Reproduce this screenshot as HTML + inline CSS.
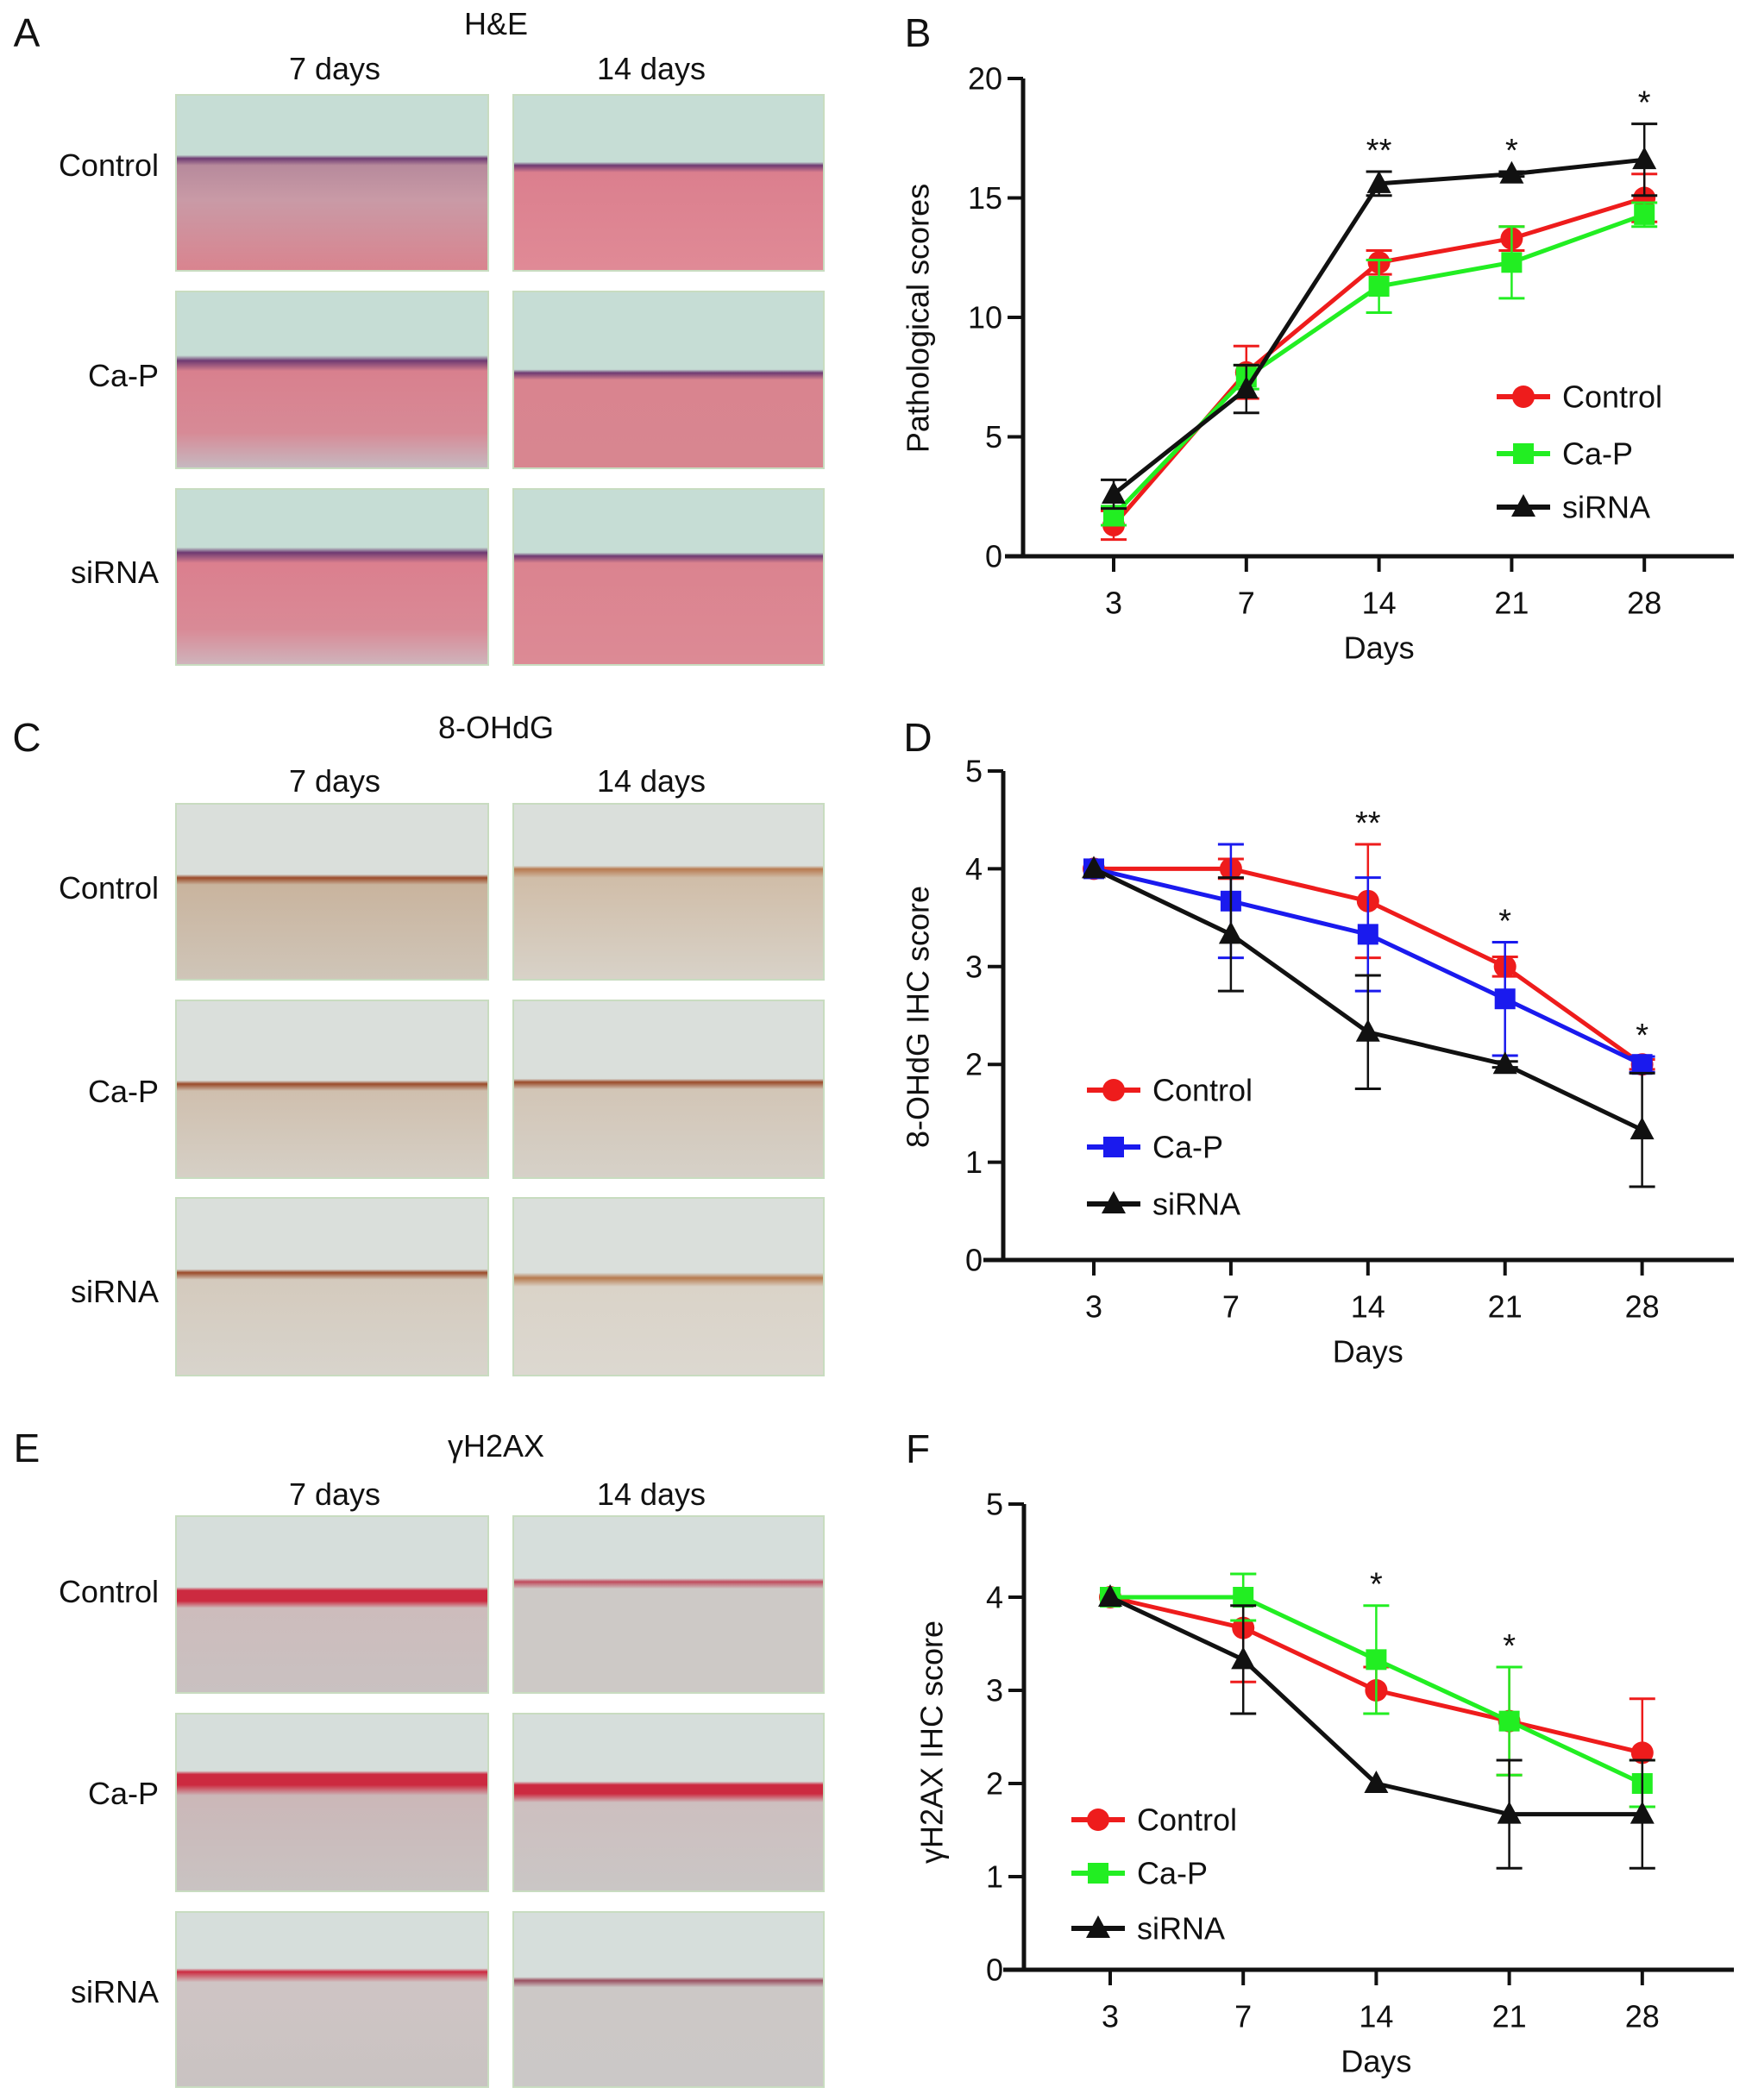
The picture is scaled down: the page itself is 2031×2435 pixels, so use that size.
<!DOCTYPE html>
<html><head><meta charset="utf-8">
<style>
html,body{margin:0;padding:0;background:#fff;}
body{width:2031px;height:2435px;position:relative;overflow:hidden;font-family:"Liberation Sans",Arial,sans-serif;}
.t{position:absolute;color:#111;white-space:nowrap;}
.img{position:absolute;box-sizing:border-box;border:2px solid #c8dcc0;}
</style></head><body>
<svg id="fig" width="2031" height="2435" style="position:absolute;left:0;top:0" xmlns="http://www.w3.org/2000/svg" font-family="Liberation Sans, Arial, sans-serif"></svg>
<script>
// ---- Shared categories ----
const days = ["3","7","14","21","28"];
// ---- Panel B ----
const bYTicks = [0,5,10,15,20];
const bControl = [1.3,7.7,12.3,13.3,15.0];
const bControlErr = [0.6,1.1,0.5,0.5,1.0];
const bCaP = [1.7,7.5,11.3,12.3,14.3];
const bCaPErr = [0.4,0.5,1.1,1.5,0.5];
const bSiRNA = [2.6,7.0,15.6,16.0,16.6];
const bSiRNAErr = [0.6,1.0,0.5,0.1,1.5];
const bStars = ["","","**","*","*"];
// ---- Panel D ----
const dYTicks = [0,1,2,3,4,5];
const dControl = [4,4,3.67,3.0,2.0];
const dControlErr = [0,0.1,0.58,0.1,0.05];
const dCaP = [4,3.67,3.33,2.67,2.0];
const dCaPErr = [0,0.58,0.58,0.58,0.08];
const dSiRNA = [4,3.33,2.33,2.0,1.33];
const dSiRNAErr = [0,0.58,0.58,0.03,0.58];
const dStars = ["","","**","*","*"];
// ---- Panel F ----
const fYTicks = [0,1,2,3,4,5];
const fControl = [4,3.67,3.0,2.67,2.33];
const fControlErr = [0,0.58,0.25,0.58,0.58];
const fCaP = [4,4,3.33,2.67,2.0];
const fCaPErr = [0,0.25,0.58,0.58,0.25];
const fSiRNA = [4,3.33,2.0,1.67,1.67];
const fSiRNAErr = [0,0.58,0.02,0.58,0.58];
const fStars = ["","","*","*",""];

const NS="http://www.w3.org/2000/svg";
const svg=document.getElementById('fig');
function mk(tag,attrs,parent){const e=document.createElementNS(NS,tag);for(const k in attrs)e.setAttribute(k,attrs[k]);(parent||svg).appendChild(e);return e;}
function txt(s,x,y,size,parent,anchor){const e=mk('text',{x:x,y:y,'font-size':size,'text-anchor':anchor||'middle','dominant-baseline':'central',fill:'#111'},parent);e.textContent=s;return e;}

function marker(g,shape,x,y,color){
  let m;
  if(shape==='circle'){m=mk('circle',{cx:x,cy:y,r:13,fill:color},g);}
  else if(shape==='square'){m=mk('rect',{x:x-12,y:y-12,width:24,height:24,fill:color},g);}
  else {m=mk('polygon',{points:(x)+','+(y-15)+' '+(x-14)+','+(y+11)+' '+(x+14)+','+(y+11),fill:color},g);}
  return m;
}

function chart(c){
  const g=mk('g',{});
  
  
  const ymax=c.yTicks[c.yTicks.length-1];
  const ys=v=>c.y0+(c.yTop-c.y0)*v/ymax;
  const xs=i=>c.xPos0+i*c.xStep;
  const ax=mk('line',{x1:c.ax,y1:c.yTop,x2:c.ax,y2:c.y0+2,stroke:'#111','stroke-width':5},g);
  
  const bx=mk('line',{x1:c.xStart,y1:c.y0,x2:c.xEnd,y2:c.y0,stroke:'#111','stroke-width':5},g);
  
  c.yTicks.forEach(v=>{
    mk('line',{x1:c.ax-18,y1:ys(v),x2:c.ax,y2:ys(v),stroke:'#111','stroke-width':4},g);
    const t=txt(String(v),c.ax-24,ys(v),36,g,'end');
    
  });
  days.forEach((d,i)=>{
    mk('line',{x1:xs(i),y1:c.y0,x2:xs(i),y2:c.y0+18,stroke:'#111','stroke-width':4},g);
    const t=txt(d,xs(i),c.y0+54,36,g);
    
  });
  const xt=txt('Days',(c.xPos0+c.xPos0+4*c.xStep)/2,c.y0+106,36,g);
  
  const yt=txt(c.ytitle,0,0,36,g);
  yt.setAttribute('transform','translate('+c.ytx+','+c.yty+') rotate(-90)');
  
  c.series.forEach(s=>{
    const sg=mk('g',{},g);
    
    
    s.vals.forEach((v,i)=>{
      const e=s.err[i];
      if(e>0.02){
        mk('line',{x1:xs(i),y1:ys(v+e),x2:xs(i),y2:ys(v-e),stroke:s.color,'stroke-width':2.5},sg);
        mk('line',{x1:xs(i)-15,y1:ys(v+e),x2:xs(i)+15,y2:ys(v+e),stroke:s.color,'stroke-width':3},sg);
        mk('line',{x1:xs(i)-15,y1:ys(v-e),x2:xs(i)+15,y2:ys(v-e),stroke:s.color,'stroke-width':3},sg);
      }
    });
    const pl=mk('polyline',{points:s.vals.map((v,i)=>xs(i)+','+ys(v)).join(' '),fill:'none',stroke:s.color,'stroke-width':5,'stroke-linejoin':'round'},sg);
    
    s.vals.forEach((v,i)=>{
      const m=marker(sg,s.shape,xs(i),ys(v),s.color);
      
      
    });
  });
  c.stars.forEach((st,i)=>{
    if(!st)return;
    let top=-1e9;
    c.series.forEach(s=>{top=Math.max(top,s.vals[i]+s.err[i]);});
    const t=txt(st,xs(i),ys(top)-24,38,g);
    
  });
  c.series.forEach((s,k)=>{
    const ly=c.legY[k];
    const lg=mk('g',{},g);
    
    
    mk('line',{x1:c.legX,y1:ly,x2:c.legX+62,y2:ly,stroke:s.color,'stroke-width':6},lg);
    marker(lg,s.shape,c.legX+31,ly,s.color);
    txt(s.label,c.legX+76,ly,36,lg,'start');
  });
}

chart({name:'chart-b-pathological-scores',yTicks:bYTicks,y0:645,yTop:91,ax:1186,xStart:1165,xEnd:2010,xPos0:1291,xStep:153.8,
  ytitle:'Pathological scores',ytx:1064,yty:369,stars:bStars,legX:1735,legY:[460,526,588],
  series:[{key:'control',label:'Control',vals:bControl,err:bControlErr,color:'#ee1c1c',shape:'circle'},
          {key:'ca-p',label:'Ca-P',vals:bCaP,err:bCaPErr,color:'#22ee22',shape:'square'},
          {key:'sirna',label:'siRNA',vals:bSiRNA,err:bSiRNAErr,color:'#111',shape:'tri'}]});
chart({name:'chart-d-8ohdg-score',yTicks:dYTicks,y0:1461,yTop:894,ax:1163,xStart:1140,xEnd:2010,xPos0:1268,xStep:158.9,
  ytitle:'8-OHdG IHC score',ytx:1064,yty:1179,stars:dStars,legX:1260,legY:[1264,1330,1396],
  series:[{key:'control',label:'Control',vals:dControl,err:dControlErr,color:'#ee1c1c',shape:'circle'},
          {key:'ca-p',label:'Ca-P',vals:dCaP,err:dCaPErr,color:'#1a1aee',shape:'square'},
          {key:'sirna',label:'siRNA',vals:dSiRNA,err:dSiRNAErr,color:'#111',shape:'tri'}]});
chart({name:'chart-f-gh2ax-score',yTicks:fYTicks,y0:2284,yTop:1744,ax:1187,xStart:1163,xEnd:2010,xPos0:1287,xStep:154.2,
  ytitle:'\u03B3H2AX IHC score',ytx:1080,yty:2020,stars:fStars,legX:1242,legY:[2110,2172,2236],
  series:[{key:'control',label:'Control',vals:fControl,err:fControlErr,color:'#ee1c1c',shape:'circle'},
          {key:'ca-p',label:'Ca-P',vals:fCaP,err:fCaPErr,color:'#22ee22',shape:'square'},
          {key:'sirna',label:'siRNA',vals:fSiRNA,err:fSiRNAErr,color:'#111',shape:'tri'}]});

[['A',31,38],['B',1064,38],['C',31,855],['D',1064,855],['E',31,1679],['F',1064,1680]].forEach(p=>{
  const t=txt(p[0],p[1],p[2],46,svg);
  
  
});
</script>

<!-- Panel A -->
<div class="t" style="left:575px;top:28px;transform:translate(-50%,-50%);font-size:36px">H&amp;E</div>
<div class="t" style="left:388px;top:80px;transform:translate(-50%,-50%);font-size:36px">7 days</div>
<div class="t" style="left:755px;top:80px;transform:translate(-50%,-50%);font-size:36px">14 days</div>
<div class="t" style="right:1847px;top:192px;transform:translateY(-50%);font-size:36px">Control</div>
<div class="t" style="right:1847px;top:436px;transform:translateY(-50%);font-size:36px">Ca-P</div>
<div class="t" style="right:1847px;top:664px;transform:translateY(-50%);font-size:36px">siRNA</div>
<div class="img" style="left:203px;top:109px;width:364px;height:206px;background:linear-gradient(#c6ddd5 0%,#c6ddd5 34%,#6e3a72 36%,#b78a9c 40%,#c99aa6 60%,#d9848f 100%)"></div>
<div class="img" style="left:594px;top:109px;width:362px;height:206px;background:linear-gradient(#c6ddd5 0%,#c6ddd5 38%,#6e3a72 40%,#db7f8e 44%,#e08a96 100%)"></div>
<div class="img" style="left:203px;top:337px;width:364px;height:207px;background:linear-gradient(#c6ddd5 0%,#c6ddd5 36%,#6e3a72 39%,#d8808e 45%,#d78a96 80%,#c6b8c0 100%)"></div>
<div class="img" style="left:594px;top:337px;width:362px;height:207px;background:linear-gradient(#c6ddd5 0%,#c6ddd5 44%,#6e3a72 46%,#d9848f 50%,#d88690 100%)"></div>
<div class="img" style="left:203px;top:566px;width:364px;height:206px;background:linear-gradient(#c6ddd5 0%,#c6ddd5 33%,#6e3a72 36%,#db7f8e 42%,#d98a96 80%,#cfb3bb 100%)"></div>
<div class="img" style="left:594px;top:566px;width:362px;height:206px;background:linear-gradient(#c6ddd5 0%,#c6ddd5 36%,#6e3a72 38%,#db838f 42%,#dc8a95 100%)"></div>

<!-- Panel C -->
<div class="t" style="left:575px;top:844px;transform:translate(-50%,-50%);font-size:36px">8-OHdG</div>
<div class="t" style="left:388px;top:906px;transform:translate(-50%,-50%);font-size:36px">7 days</div>
<div class="t" style="left:755px;top:906px;transform:translate(-50%,-50%);font-size:36px">14 days</div>
<div class="t" style="right:1847px;top:1030px;transform:translateY(-50%);font-size:36px">Control</div>
<div class="t" style="right:1847px;top:1266px;transform:translateY(-50%);font-size:36px">Ca-P</div>
<div class="t" style="right:1847px;top:1498px;transform:translateY(-50%);font-size:36px">siRNA</div>
<div class="img" style="left:203px;top:931px;width:364px;height:206px;background:linear-gradient(#dadfdb 0%,#dadfdb 40%,#9a4a28 42%,#c9b49e 46%,#cfc5b8 100%)"></div>
<div class="img" style="left:594px;top:931px;width:362px;height:206px;background:linear-gradient(#dadfdb 0%,#dadfdb 35%,#b87a50 37%,#d0bda8 42%,#d8d2c8 100%)"></div>
<div class="img" style="left:203px;top:1159px;width:364px;height:208px;background:linear-gradient(#dadfdb 0%,#dadfdb 45%,#9a4a28 47%,#cfbfae 51%,#d6d0c6 100%)"></div>
<div class="img" style="left:594px;top:1159px;width:362px;height:208px;background:linear-gradient(#dadfdb 0%,#dadfdb 44%,#9a4a28 46%,#d2c5b6 50%,#d6d1c8 100%)"></div>
<div class="img" style="left:203px;top:1388px;width:364px;height:208px;background:linear-gradient(#dadfdb 0%,#dadfdb 40%,#9a4a28 42%,#d4cabd 46%,#d8d4cc 100%)"></div>
<div class="img" style="left:594px;top:1388px;width:362px;height:208px;background:linear-gradient(#dadfdb 0%,#dadfdb 42%,#b77a4e 45%,#dad3c8 50%,#dcd8d0 100%)"></div>

<!-- Panel E -->
<div class="t" style="left:575px;top:1677px;transform:translate(-50%,-50%);font-size:36px">γH2AX</div>
<div class="t" style="left:388px;top:1733px;transform:translate(-50%,-50%);font-size:36px">7 days</div>
<div class="t" style="left:755px;top:1733px;transform:translate(-50%,-50%);font-size:36px">14 days</div>
<div class="t" style="right:1847px;top:1846px;transform:translateY(-50%);font-size:36px">Control</div>
<div class="t" style="right:1847px;top:2080px;transform:translateY(-50%);font-size:36px">Ca-P</div>
<div class="t" style="right:1847px;top:2310px;transform:translateY(-50%);font-size:36px">siRNA</div>
<div class="img" style="left:203px;top:1757px;width:364px;height:207px;background:linear-gradient(#d6dedb 0%,#d6dedb 40%,#cc2a40 42%,#cc2a40 48%,#cdbcbc 52%,#c9c1c1 100%)"></div>
<div class="img" style="left:594px;top:1757px;width:362px;height:207px;background:linear-gradient(#d6dedb 0%,#d6dedb 35%,#c04a5c 37%,#cdc9c6 41%,#cdc9c6 100%)"></div>
<div class="img" style="left:203px;top:1986px;width:364px;height:208px;background:linear-gradient(#d6dedb 0%,#d6dedb 32%,#cc2a40 34%,#cc2a40 40%,#cbb7b8 46%,#c9c3c2 100%)"></div>
<div class="img" style="left:594px;top:1986px;width:362px;height:208px;background:linear-gradient(#d6dedb 0%,#d6dedb 38%,#cc2a40 40%,#cc2a40 45%,#cdbfbf 50%,#cac6c5 100%)"></div>
<div class="img" style="left:203px;top:2216px;width:364px;height:205px;background:linear-gradient(#d6dedb 0%,#d6dedb 32%,#cc2a40 34%,#cfc4c4 40%,#c9c3c2 100%)"></div>
<div class="img" style="left:594px;top:2216px;width:362px;height:205px;background:linear-gradient(#d6dedb 0%,#d6dedb 37%,#9a5060 39%,#ccc8c6 43%,#cbc8c7 100%)"></div>
</body></html>
